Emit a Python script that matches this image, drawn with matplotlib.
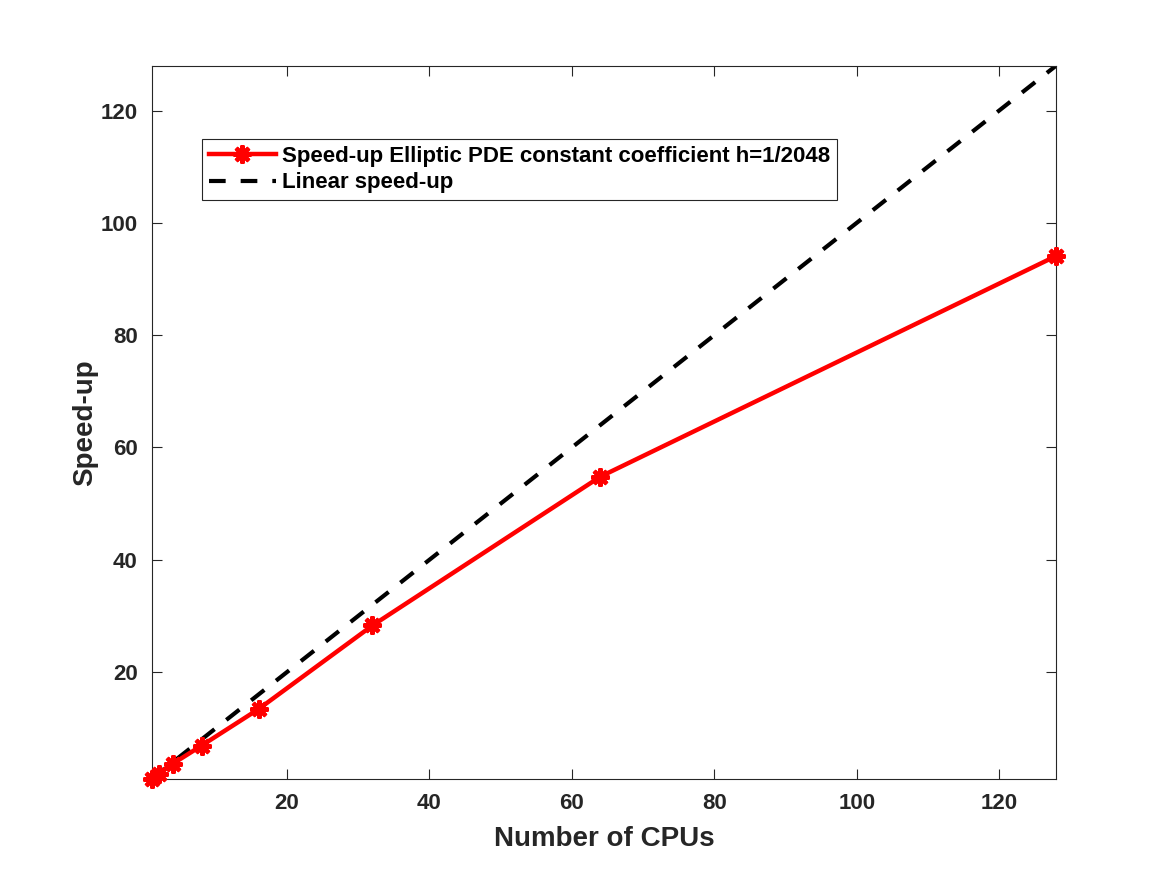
import numpy as np
import matplotlib.pyplot as plt

# speed-up data
cpus = [1, 2, 4, 8, 16, 32, 64, 128]
speedup = [1.0, 1.9, 3.7, 6.9, 13.4, 28.3, 54.8, 94.1]
linear = [1, 128]

plt.rcParams['font.family'] = ['Liberation Sans', 'DejaVu Sans']
plt.rcParams['font.weight'] = 'bold'

fig = plt.figure(figsize=(11.67, 8.75), dpi=100)
ax = fig.add_axes([0.13, 0.11, 0.775, 0.815])

ax.plot(cpus, speedup, color='red', lw=3.2, marker=(8, 2, 0), ms=13, mew=3,
        label='Speed-up Elliptic PDE constant coefficient h=1/2048', clip_on=False, zorder=3)
ax.plot(linear, linear, color='black', lw=3, ls=(0, (4, 3.6)), label='Linear speed-up', zorder=2)

ax.set_xlim(1, 128)
ax.set_ylim(1, 128)
ax.set_xticks([20, 40, 60, 80, 100, 120])
ax.set_yticks([20, 40, 60, 80, 100, 120])
ax.tick_params(direction='in', length=7, width=0.8, labelsize=16, colors='#262626', pad=10,
               top=True, right=True, labeltop=False, labelright=False)
for lab in ax.get_xticklabels() + ax.get_yticklabels():
    lab.set_fontweight('bold')
for s in ax.spines.values():
    s.set_color('#262626')
    s.set_linewidth(0.8)

ax.set_xlabel('Number of CPUs', fontsize=20, fontweight='bold', color='#262626', labelpad=9)
ax.set_ylabel('Speed-up', fontsize=20, fontweight='bold', color='#262626', labelpad=2)

leg = ax.legend(loc='upper left', bbox_to_anchor=(0.056, 0.897), fontsize=16, frameon=True,
                fancybox=False, edgecolor='#262626', framealpha=1, handlelength=3.0,
                handletextpad=0.3, borderpad=0.3, labelspacing=0.25, borderaxespad=0)
leg.get_frame().set_linewidth(0.8)
for t in leg.get_texts():
    t.set_fontweight('bold')

fig.savefig('out.png', dpi=100)
